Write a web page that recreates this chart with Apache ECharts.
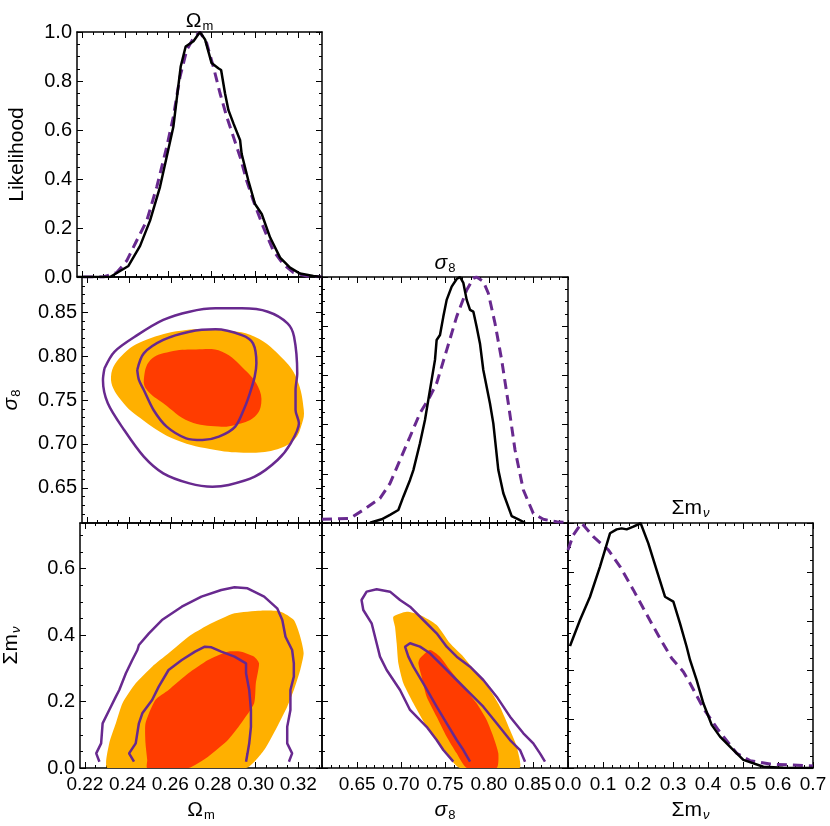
<!DOCTYPE html>
<html>
<head>
<meta charset="utf-8">
<script src="https://cdn.jsdelivr.net/npm/echarts@6.0.0/dist/echarts.min.js"></script>
<style>
  html, body { margin: 0; padding: 0; background: #fff; }
  #container { width: 830px; height: 826px; }
</style>
</head>
<body>
<div id="container"></div>
<script>
// ---- axis ranges and tick labels ----
var omRange = [0.2177, 0.3311];
var s8Range = [0.61, 0.89];
var mnuYRange = [0, 0.737];
var mnuXRange = [0, 0.7];
var likeRange = [0, 1];

var omTicks = [0.22, 0.24, 0.26, 0.28, 0.30, 0.32];
var s8Ticks = [0.65, 0.70, 0.75, 0.80, 0.85];
var mnuYTicks = [0.0, 0.2, 0.4, 0.6];
var mnuXTicks = [0.0, 0.1, 0.2, 0.3, 0.4, 0.5, 0.6, 0.7];
var likeTicks = [0.0, 0.2, 0.4, 0.6, 0.8, 1.0];

// ---- 1D likelihoods [value, L] ----
var omSolid = [[0.2177,0],[0.2330,0],[0.2415,0.045],[0.2469,0.127],[0.2515,0.23],[0.2561,0.367],[0.2592,0.49],
  [0.2623,0.613],[0.2638,0.722],[0.2657,0.859],[0.2680,0.941],[0.2716,0.962],[0.2746,1.0],[0.2770,0.969],
  [0.2800,0.873],[0.2831,0.852],[0.2844,0.845],[0.2862,0.75],[0.2878,0.681],[0.2901,0.627],[0.2932,0.558],
  [0.2939,0.503],[0.2970,0.394],[0.3001,0.298],[0.3032,0.257],[0.3071,0.161],[0.3117,0.079],[0.3163,0.038],
  [0.3209,0.014],[0.3271,0.004],[0.3310,0]];
var omDash = [[0.2206,0],[0.2299,0],[0.2361,0.018],[0.2407,0.066],[0.2453,0.148],[0.2500,0.23],[0.2546,0.367],
  [0.2592,0.53],[0.2623,0.654],[0.2654,0.818],[0.2685,0.927],[0.2716,0.975],[0.2746,1.0],[0.2777,0.955],
  [0.2808,0.859],[0.2839,0.75],[0.2870,0.654],[0.2901,0.572],[0.2932,0.49],[0.2962,0.394],[0.2993,0.312],
  [0.3040,0.202],[0.3086,0.107],[0.3132,0.052],[0.3179,0.018],[0.3240,0.004],[0.3310,0]];

var s8Solid = [[0.6646,0.001],[0.6779,0.015],[0.6874,0.033],[0.6969,0.053],[0.7026,0.107],[0.7102,0.175],
  [0.7140,0.215],[0.7215,0.324],[0.7272,0.419],[0.7329,0.541],[0.7386,0.663],[0.7405,0.744],[0.7443,0.764],
  [0.7481,0.839],[0.7519,0.907],[0.7576,0.961],[0.7633,0.992],[0.7671,1.0],[0.7709,0.976],[0.7747,0.907],
  [0.7785,0.866],[0.7823,0.859],[0.7860,0.798],[0.7898,0.73],[0.7936,0.622],[0.8012,0.486],[0.8050,0.405],
  [0.8107,0.215],[0.8164,0.121],[0.8259,0.028],[0.8335,0.015],[0.8411,0.001]];
var s8Dash = [[0.6100,0.015],[0.6419,0.019],[0.6570,0.053],[0.6760,0.1],[0.6874,0.161],[0.6988,0.256],
  [0.7102,0.351],[0.7215,0.446],[0.7329,0.514],[0.7405,0.568],[0.7519,0.703],[0.7633,0.839],[0.7747,0.947],
  [0.7823,0.995],[0.7860,1.0],[0.7936,0.982],[0.7993,0.934],[0.8069,0.812],[0.8145,0.663],[0.8221,0.486],
  [0.8297,0.297],[0.8392,0.134],[0.8505,0.039],[0.8619,0.015],[0.8771,0.005],[0.8900,0.001]];

var mnuSolid = [[0.0057,0.498],[0.0343,0.604],[0.0629,0.699],[0.0914,0.822],[0.1200,0.958],[0.1390,0.974],
  [0.1533,0.978],[0.1676,0.974],[0.1867,0.985],[0.2076,0.999],[0.2295,0.917],[0.2533,0.808],[0.2771,0.699],
  [0.3010,0.679],[0.3200,0.59],[0.3390,0.495],[0.3486,0.441],[0.3676,0.359],[0.3867,0.264],[0.4105,0.176],
  [0.4343,0.128],[0.4676,0.08],[0.5010,0.033],[0.5581,0.005],[0.6152,0.001],[0.7000,0]];
var mnuDash = [[0.0000,0.89],[0.0152,0.951],[0.0390,1.0],[0.0724,0.944],[0.1152,0.89],[0.1486,0.822],
  [0.1867,0.727],[0.2152,0.652],[0.2390,0.59],[0.2629,0.529],[0.2962,0.448],[0.3295,0.393],[0.3486,0.346],
  [0.3867,0.244],[0.4295,0.155],[0.4819,0.06],[0.5200,0.03],[0.5771,0.016],[0.7000,0.008]];

// ---- 2D contours: Omega_m vs sigma_8 ----
var omS8Outer = [[0.2314,0.7766],[0.2376,0.8031],[0.2500,0.8202],[0.2669,0.8297],[0.2824,0.8297],[0.2993,0.8221],
  [0.3132,0.7955],[0.3194,0.7728],[0.3225,0.7386],[0.3217,0.7235],[0.3179,0.7045],[0.3086,0.6931],[0.2962,0.6900],
  [0.2808,0.6931],[0.2623,0.7045],[0.2469,0.7265],[0.2361,0.7500]];
var omS8Inner = [[0.2469,0.7728],[0.2500,0.7955],[0.2592,0.8050],[0.2716,0.8076],[0.2839,0.8050],[0.2947,0.7842],
  [0.3009,0.7652],[0.3024,0.7462],[0.2993,0.7310],[0.2901,0.7215],[0.2824,0.7197],[0.2685,0.7254],[0.2561,0.7462],
  [0.2484,0.7614]];
var omS8Line2 = [[0.2283,0.7859],[0.2330,0.8049],[0.2438,0.8238],[0.2561,0.8411],[0.2685,0.8505],[0.2808,0.8543],
  [0.2932,0.8543],[0.3055,0.8505],[0.3148,0.8373],[0.3179,0.8221],[0.3194,0.7804],[0.3186,0.7614],[0.3186,0.7386],
  [0.3202,0.7235],[0.3163,0.7007],[0.3101,0.6817],[0.2993,0.6627],[0.2870,0.6533],[0.2793,0.6513],[0.2685,0.6551],
  [0.2561,0.6665],[0.2469,0.6855],[0.2376,0.7159],[0.2299,0.7462],[0.2276,0.7728],[0.2283,0.7859]];
var omS8Line1 = [[0.2438,0.7842],[0.2469,0.8031],[0.2561,0.8183],[0.2685,0.8277],[0.2808,0.8304],[0.2932,0.8238],
  [0.2985,0.8145],[0.3001,0.7917],[0.2993,0.7766],[0.2970,0.7576],[0.2947,0.7424],[0.2901,0.7197],[0.2824,0.7083],
  [0.2746,0.7045],[0.2669,0.7064],[0.2577,0.7197],[0.2515,0.7386],[0.2469,0.7614],[0.2446,0.7728],[0.2438,0.7842]];

// ---- 2D contours: Omega_m vs sum m_nu ----
var omMnuOuter = [[0.2307,0],[0.2955,0],[0.3040,0.054],[0.3101,0.124],[0.3148,0.1845],[0.3179,0.2347],
  [0.3209,0.2948],[0.3225,0.345],[0.3209,0.395],[0.3179,0.4452],[0.3117,0.4703],[0.3024,0.4733],[0.2901,0.4653],
  [0.2777,0.4302],[0.2685,0.395],[0.2592,0.345],[0.2515,0.3048],[0.2438,0.2547],[0.2376,0.1946],[0.2345,0.1344],
  [0.2314,0.0742]];
var omMnuInner = [[0.2492,0],[0.2685,0],[0.2777,0.0341],[0.2870,0.0842],[0.2932,0.1344],[0.2993,0.1946],
  [0.3001,0.2547],[0.3016,0.3149],[0.2993,0.335],[0.2932,0.35],[0.2870,0.35],[0.2777,0.3249],[0.2685,0.2848],
  [0.2592,0.2347],[0.2530,0.2046],[0.2484,0.1344],[0.2484,0.0742],[0.2492,0.0241]];
var omMnuLine2 = [[0.2268,0.019],[0.2253,0.0441],[0.2276,0.0742],[0.2283,0.1344],[0.2314,0.1745],[0.2345,0.2146],
  [0.2361,0.2347],[0.2392,0.2848],[0.2422,0.3249],[0.2446,0.355],[0.2453,0.370],[0.2500,0.4051],[0.2561,0.4452],
  [0.2654,0.4853],[0.2746,0.5154],[0.2839,0.5355],[0.2901,0.5435],[0.2962,0.5405],[0.3040,0.5154],[0.3101,0.4803],
  [0.3125,0.4452],[0.3140,0.395],[0.3171,0.355],[0.3179,0.3149],[0.3179,0.2748],[0.3163,0.2347],[0.3163,0.1745],
  [0.3148,0.124],[0.3148,0.0742],[0.3171,0.0441],[0.3156,0.019]];
var omMnuLine1 = [[0.2430,0.019],[0.2407,0.0441],[0.2438,0.0742],[0.2453,0.1344],[0.2469,0.1645],[0.2515,0.2046],
  [0.2546,0.2447],[0.2592,0.2948],[0.2654,0.3249],[0.2716,0.350],[0.2762,0.365],[0.2793,0.363],[0.2839,0.350],
  [0.2901,0.335],[0.2955,0.3149],[0.2955,0.2848],[0.2970,0.2347],[0.2978,0.1745],[0.2978,0.124],[0.2970,0.0742],
  [0.2962,0.0441],[0.2955,0.019]];

// ---- 2D contours: sigma_8 vs sum m_nu ----
var s8MnuOuter = [[0.6912,0.4553],[0.7064,0.4703],[0.7215,0.4603],[0.7405,0.4302],[0.7557,0.3751],[0.7709,0.3349],
  [0.7860,0.2848],[0.8012,0.2347],[0.8126,0.1845],[0.8240,0.1143],[0.8316,0.0642],[0.8346,0],[0.7671,0],
  [0.7481,0.054],[0.7291,0.124],[0.7140,0.1946],[0.7026,0.2547],[0.6969,0.3149],[0.6950,0.3751],[0.6931,0.4252]];
var s8MnuInner = [[0.7215,0.3299],[0.7329,0.355],[0.7443,0.3349],[0.7557,0.2948],[0.7709,0.2447],[0.7860,0.1946],
  [0.7974,0.1444],[0.8050,0.0943],[0.8107,0.0441],[0.8088,0],[0.7747,0],[0.7633,0.0441],[0.7519,0.0943],
  [0.7405,0.1544],[0.7291,0.2146],[0.7234,0.2748],[0.7197,0.3149]];
var s8MnuLine2 = [[0.7595,0.019],[0.7481,0.054],[0.7405,0.0842],[0.7291,0.124],[0.7102,0.1745],[0.6988,0.2347],
  [0.6836,0.2948],[0.6760,0.3349],[0.6722,0.3751],[0.6665,0.4353],[0.6570,0.4753],[0.6550,0.5054],[0.6608,0.5305],
  [0.6722,0.5375],[0.6874,0.5305],[0.6988,0.5054],[0.7102,0.4853],[0.7253,0.4452],[0.7405,0.4051],[0.7519,0.365],
  [0.7633,0.3349],[0.7785,0.3048],[0.7936,0.2647],[0.8088,0.2146],[0.8240,0.1544],[0.8392,0.1043],[0.8505,0.0742],
  [0.8581,0.0441],[0.8638,0.019]];
var s8MnuLine1 = [[0.7785,0.019],[0.7709,0.054],[0.7633,0.0842],[0.7519,0.1344],[0.7405,0.1845],[0.7253,0.2547],
  [0.7140,0.3048],[0.7083,0.3349],[0.7045,0.365],[0.7045,0.370],[0.7102,0.3751],[0.7215,0.365],[0.7329,0.345],
  [0.7481,0.3048],[0.7633,0.2647],[0.7785,0.2246],[0.7936,0.1845],[0.8088,0.1344],[0.8240,0.0842],[0.8354,0.054],
  [0.8411,0.019]];

var FONT = '"Liberation Sans", Arial, Helvetica, sans-serif';
var ORANGE = '#ffb000';
var RED = '#ff3c00';
var PURPLE = '#68298f';

var richText = {
  g: { fontSize: 21, fontFamily: FONT, color: '#000' },
  gi: { fontSize: 21, fontFamily: FONT, fontStyle: 'italic', color: '#000' },
  s: { fontSize: 13, fontFamily: FONT, color: '#000', padding: [10, 0, 0, 1] },
  si: { fontSize: 13, fontFamily: FONT, fontStyle: 'italic', color: '#000', padding: [10, 0, 0, 1] },
  p: { fontSize: 21, fontFamily: FONT, color: '#000' }
};
var NAME_OM = '{g|Ω}{s|m}';
var NAME_S8 = '{gi|σ}{s|8}';
var NAME_MNU = '{g|Σm}{si|ν}';

function minorTicks(range, step) {
  var out = [];
  var k = Math.ceil(range[0] / step - 1e-6);
  for (; k * step <= range[1] + 1e-9; k++) out.push(+(k * step).toFixed(4));
  return out;
}

var grids = [], xAxes = [], yAxes = [], series = [], titles = [];

// main + minor axis on one side, returns the index of the main one
function addAxis(list, gi, pos, range, major, minorStep, label, name) {
  var idx = list.length;
  var main = {
    type: 'value', gridIndex: gi, position: pos, min: range[0], max: range[1],
    axisLine: { show: true, onZero: false, lineStyle: { color: '#000', width: 1.5 } },
    axisTick: { show: true, inside: true, length: 6, customValues: major, lineStyle: { color: '#000', width: 1 } },
    axisLabel: { show: false },
    splitLine: { show: false }
  };
  if (label) {
    main.axisLabel = {
      show: true, customValues: major, color: '#000', fontSize: label.size, fontFamily: FONT,
      margin: label.margin, formatter: function (v) { return v.toFixed(label.dec); }
    };
  }
  if (name) {
    main.name = name.text;
    main.nameLocation = 'middle';
    main.nameGap = name.gap;
    main.nameTextStyle = { rich: richText, fontSize: 21, fontFamily: FONT, color: '#000' };
  }
  list.push(main);
  list.push({
    type: 'value', gridIndex: gi, position: pos, min: range[0], max: range[1],
    axisLine: { show: false, onZero: false },
    axisTick: { show: true, inside: true, length: 3, customValues: minorTicks(range, minorStep), lineStyle: { color: '#000', width: 1 } },
    axisLabel: { show: false },
    splitLine: { show: false }
  });
  return idx;
}

function addPanel(p) {
  var gi = grids.length;
  grids.push({ left: p.left, top: p.top, width: p.w, height: p.h, containLabel: false });
  var xi = addAxis(xAxes, gi, 'bottom', p.xr, p.xt, p.xm, p.xLabel, p.xName);
  addAxis(xAxes, gi, 'top', p.xr, p.xt, p.xm, null, null);
  var yi = addAxis(yAxes, gi, 'left', p.yr, p.yt, p.ym, p.yLabel, p.yName);
  addAxis(yAxes, gi, 'right', p.yr, p.yt, p.ym, null, null);
  if (p.title) {
    titles.push({
      type: 'text', x: p.left + p.w / 2, y: p.top - p.title.dy,
      style: { text: p.title.text, rich: richText, align: 'center', verticalAlign: 'middle', fill: '#000' }
    });
  }
  return { x: xi, y: yi };
}

function fillSeries(ax, pts, color, smooth) {
  return {
    type: 'custom', xAxisIndex: ax.x, yAxisIndex: ax.y, clip: true, silent: true, z: 1,
    data: pts,
    renderItem: function (params, api) {
      if (params.dataIndex !== 0) return null;
      var poly = pts.map(function (d) { return api.coord(d); });
      return { type: 'polygon', shape: { points: poly, smooth: smooth }, style: { fill: color } };
    }
  };
}

function lineSeries(ax, pts, color, width, dashed, smooth) {
  return {
    type: 'line', xAxisIndex: ax.x, yAxisIndex: ax.y, data: pts, showSymbol: false, symbol: 'none',
    smooth: smooth || false, clip: true, silent: true, z: 3,
    lineStyle: { color: color, width: width, type: dashed ? [10, 6] : 'solid' }
  };
}

var colL = [77, 322, 568];
var rowT = [32, 277, 523];
var W = 245;

// row 0: Omega_m likelihood
var a00 = addPanel({ left: colL[0], top: rowT[0], w: W, h: 245,
  xr: omRange, xt: omTicks, xm: 0.005, yr: likeRange, yt: likeTicks, ym: 0.05,
  yLabel: { dec: 1, margin: 5, size: 20 }, yName: { text: '{p|Likelihood}', gap: 49 },
  title: { text: NAME_OM, dy: 11 } });
// row 1
var a10 = addPanel({ left: colL[0], top: rowT[1], w: W, h: 246,
  xr: omRange, xt: omTicks, xm: 0.005, yr: s8Range, yt: s8Ticks, ym: 0.01,
  yLabel: { dec: 2, margin: 5, size: 20 }, yName: { text: NAME_S8, gap: 59 } });
var a11 = addPanel({ left: colL[1], top: rowT[1], w: 246, h: 246,
  xr: s8Range, xt: s8Ticks, xm: 0.01, yr: likeRange, yt: likeTicks, ym: 0.05,
  title: { text: NAME_S8, dy: 14 } });
// row 2
var a20 = addPanel({ left: colL[0], top: rowT[2], w: W, h: 245,
  xr: omRange, xt: omTicks, xm: 0.005, yr: mnuYRange, yt: mnuYTicks, ym: 0.05,
  xLabel: { dec: 2, margin: 7, size: 19 }, xName: { text: NAME_OM, gap: 31 },
  yLabel: { dec: 1, margin: 5, size: 20 }, yName: { text: NAME_MNU, gap: 57 } });
var a21 = addPanel({ left: colL[1], top: rowT[2], w: 246, h: 245,
  xr: s8Range, xt: s8Ticks, xm: 0.01, yr: mnuYRange, yt: mnuYTicks, ym: 0.05,
  xLabel: { dec: 2, margin: 7, size: 19 }, xName: { text: NAME_S8, gap: 31 } });
var a22 = addPanel({ left: colL[2], top: rowT[2], w: W, h: 245,
  xr: mnuXRange, xt: mnuXTicks, xm: 0.025, yr: likeRange, yt: likeTicks, ym: 0.05,
  xLabel: { dec: 1, margin: 7, size: 19 }, xName: { text: NAME_MNU, gap: 31 },
  title: { text: NAME_MNU, dy: 15 } });

series.push(lineSeries(a00, omDash, PURPLE, 3, true));
series.push(lineSeries(a00, omSolid, '#000', 2.5, false));

series.push(fillSeries(a10, omS8Outer, ORANGE, 0.4));
series.push(fillSeries(a10, omS8Inner, RED, 0.4));
series.push(lineSeries(a10, omS8Line2, PURPLE, 2.5, false, 0.3));
series.push(lineSeries(a10, omS8Line1, PURPLE, 2.5, false, 0.3));

series.push(lineSeries(a11, s8Dash, PURPLE, 3, true));
series.push(lineSeries(a11, s8Solid, '#000', 2.5, false));

series.push(fillSeries(a20, omMnuOuter, ORANGE, 0.2));
series.push(fillSeries(a20, omMnuInner, RED, 0.2));
series.push(lineSeries(a20, omMnuLine2, PURPLE, 2.5, false));
series.push(lineSeries(a20, omMnuLine1, PURPLE, 2.5, false));

series.push(fillSeries(a21, s8MnuOuter, ORANGE, 0.2));
series.push(fillSeries(a21, s8MnuInner, RED, 0.2));
series.push(lineSeries(a21, s8MnuLine2, PURPLE, 2.5, false));
series.push(lineSeries(a21, s8MnuLine1, PURPLE, 2.5, false));

series.push(lineSeries(a22, mnuDash, PURPLE, 3, true));
series.push(lineSeries(a22, mnuSolid, '#000', 2.5, false));

var myChart = echarts.init(document.getElementById('container'), null, { renderer: 'canvas' });
myChart.setOption({
  animation: false,
  backgroundColor: '#fff',
  grid: grids,
  xAxis: xAxes,
  yAxis: yAxes,
  series: series,
  graphic: titles
});
</script>
</body>
</html>
